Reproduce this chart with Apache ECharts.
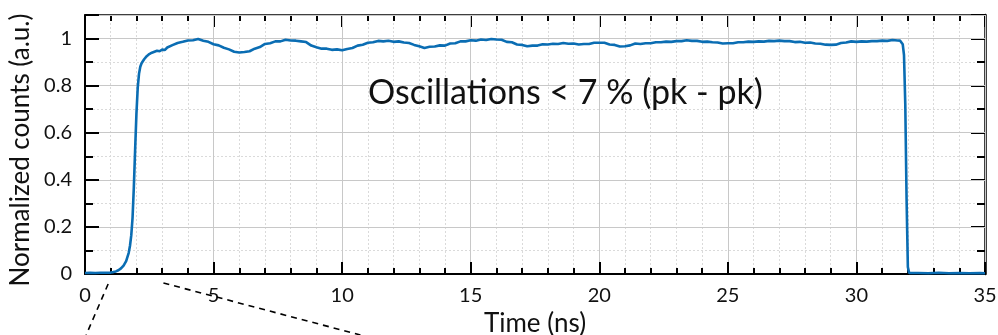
<!DOCTYPE html>
<html>
<head>
<meta charset="utf-8">
<script src="https://cdn.jsdelivr.net/npm/echarts@6/dist/echarts.min.js"></script>
<style>
  html, body { margin: 0; padding: 0; background: #fff; }
  #chart { width: 998px; height: 335px; }
</style>
</head>
<body>
<div id="chart"></div>
<script>
// Time axis samples (ns)
const timeNs = [
  0, 0.2, 0.4, 0.6, 0.8, 1.0, 1.1, 1.2, 1.3, 1.4, 1.5, 1.6, 1.7, 1.75, 1.8, 1.85, 1.9, 1.95,
  2.0, 2.05, 2.1, 2.15, 2.2, 2.3, 2.4, 2.5, 2.6, 2.7, 2.8, 2.9, 3.0, 3.1,
  3.2, 3.4, 3.6, 3.8, 4.0, 4.2, 4.4, 4.6, 4.8, 5.0, 5.2, 5.4, 5.6, 5.8, 6.0, 6.2, 6.4, 6.6, 6.8,
  7.0, 7.2, 7.4, 7.6, 7.8, 8.0, 8.2, 8.4, 8.6, 8.8, 9.0, 9.2, 9.4, 9.6, 9.8,
  10.0, 10.2, 10.4, 10.6, 10.8, 11.0, 11.2, 11.4, 11.6, 11.8, 12.0, 12.2, 12.4, 12.6, 12.8,
  13.0, 13.2, 13.4, 13.6, 13.8, 14.0, 14.2, 14.4, 14.6, 14.8, 15.0, 15.2, 15.4, 15.6, 15.8,
  16.0, 16.2, 16.4, 16.6, 16.8, 17.0, 17.2, 17.4, 17.6, 17.8, 18.0, 18.2, 18.4, 18.6, 18.8,
  19.0, 19.2, 19.4, 19.6, 19.8, 20.0, 20.2, 20.4, 20.6, 20.8, 21.0, 21.2, 21.4, 21.6, 21.8,
  22.0, 22.2, 22.4, 22.6, 22.8, 23.0, 23.2, 23.4, 23.6, 23.8, 24.0, 24.2, 24.4, 24.6, 24.8,
  25.0, 25.2, 25.4, 25.6, 25.8, 26.0, 26.2, 26.4, 26.6, 26.8, 27.0, 27.2, 27.4, 27.6, 27.8,
  28.0, 28.2, 28.4, 28.6, 28.8, 29.0, 29.2, 29.4, 29.6, 29.8, 30.0, 30.2, 30.4, 30.6, 30.8,
  31.0, 31.2, 31.4, 31.6, 31.7, 31.8, 31.85, 31.9, 31.95, 32.0, 32.05,
  32.4, 32.8, 33.2, 33.6, 34.0, 34.4, 34.8, 35.0
];

// Normalized detector counts at each sample
const normCounts = [
  0.004, 0.005, 0.004, 0.005, 0.005, 0.006, 0.008, 0.011, 0.016, 0.024, 0.036, 0.055, 0.09, 0.12, 0.165, 0.24, 0.37, 0.53,
  0.68, 0.79, 0.85, 0.88, 0.895, 0.912, 0.925, 0.934, 0.94, 0.944, 0.948, 0.946, 0.953, 0.951,
  0.962, 0.972, 0.981, 0.986, 0.992, 0.993, 0.998, 0.991, 0.986, 0.976, 0.971, 0.961, 0.954, 0.944, 0.941, 0.943, 0.946, 0.957, 0.964,
  0.977, 0.980, 0.988, 0.988, 0.995, 0.992, 0.991, 0.988, 0.985, 0.970, 0.963, 0.957, 0.957, 0.952, 0.954,
  0.950, 0.956, 0.960, 0.970, 0.974, 0.982, 0.984, 0.990, 0.988, 0.991, 0.986, 0.988, 0.983, 0.981, 0.973,
  0.967, 0.960, 0.965, 0.966, 0.971, 0.970, 0.979, 0.980, 0.988, 0.988, 0.993, 0.991, 0.996, 0.994, 0.998,
  0.996, 0.995, 0.986, 0.984, 0.975, 0.973, 0.967, 0.970, 0.970, 0.976, 0.975, 0.978, 0.977, 0.981, 0.978,
  0.979, 0.975, 0.977, 0.977, 0.982, 0.982, 0.982, 0.975, 0.973, 0.966, 0.967, 0.971, 0.979, 0.977, 0.980,
  0.980, 0.984, 0.984, 0.987, 0.986, 0.989, 0.989, 0.993, 0.990, 0.990, 0.986, 0.987, 0.984, 0.983, 0.979,
  0.980, 0.980, 0.984, 0.984, 0.987, 0.986, 0.988, 0.987, 0.990, 0.989, 0.991, 0.989, 0.989, 0.985, 0.986,
  0.982, 0.983, 0.979, 0.978, 0.974, 0.973, 0.974, 0.981, 0.983, 0.988, 0.986, 0.988, 0.987, 0.989, 0.989,
  0.991, 0.990, 0.994, 0.992, 0.991, 0.976, 0.930, 0.720, 0.320, 0.030, 0.004,
  0.004, 0.003, 0.005, 0.003, 0.004, 0.003, 0.004, 0.003
];

// Axis ranges, major steps and minor tick steps
const xRange = [0, 35];
const xStep = 5;
const xMinorStep = 1;
const yRange = [0, 1.1];
const yStep = 0.2;
const yMinorStep = 0.1;

const annotation = 'Oscillations < 7 % (pk - pk)';
const FONT = 'Lato, "Open Sans", sans-serif';

const seriesData = timeNs.map((t, i) => [t, normCounts[i]]);

const chart = echarts.init(document.getElementById('chart'));

const tickStyle = { color: '#000', width: 2 };
const majorGrid = { show: true, lineStyle: { color: '#c8c8c8', width: 1, type: 'solid' } };
const minorGrid = { show: true, lineStyle: { color: '#dadada', width: 1, type: [2, 2] } };

// Four stacked grids share one plot rectangle: main axes + data, minor ticks, and the
// mirrored top/right frame with its own major and minor ticks.
const box = { left: 85, right: 13, top: 15, bottom: 61, containLabel: false, outerBoundsMode: 'none' };
const grids = [0, 1, 2, 3].map(() => Object.assign({}, box));

// A bare axis that only draws inward ticks, optional frame line and optional grid lines
function tickAxis(gridIndex, range, step, position, tickLen, split, lineWidth) {
  return {
    gridIndex: gridIndex,
    type: 'value', min: range[0], max: range[1], interval: step, position: position,
    axisLine: { show: lineWidth > 0, onZero: false, lineStyle: { color: '#000', width: lineWidth || 1 } },
    axisTick: { show: true, inside: true, length: tickLen, lineStyle: tickStyle },
    splitLine: split || { show: false },
    axisLabel: { show: false }
  };
}

chart.setOption({
  animation: false,
  backgroundColor: '#fff',
  grid: grids,
  xAxis: [
    {
      gridIndex: 0,
      type: 'value', min: xRange[0], max: xRange[1], interval: xStep, position: 'bottom',
      axisLine: { show: true, onZero: false, lineStyle: { color: '#000', width: 2 } },
      axisTick: { show: true, inside: true, length: 12, lineStyle: tickStyle },
      splitLine: majorGrid,
      axisLabel: { color: '#111', fontFamily: FONT, fontSize: 20, margin: 12 },
      name: 'Time (ns)', nameLocation: 'middle', nameGap: 35,
      nameTextStyle: { color: '#111', fontFamily: FONT, fontSize: 26 },
      z: 4
    },
    tickAxis(1, xRange, xMinorStep, 'bottom', 6, minorGrid, 0),
    tickAxis(2, xRange, xStep, 'top', 12, null, 1.5),
    tickAxis(3, xRange, xMinorStep, 'top', 6, null, 0)
  ],
  yAxis: [
    {
      gridIndex: 0,
      type: 'value', min: yRange[0], max: yRange[1], interval: yStep, position: 'left',
      axisLine: { show: true, onZero: false, lineStyle: { color: '#000', width: 2 } },
      axisTick: { show: true, inside: true, length: 14, lineStyle: tickStyle },
      splitLine: majorGrid,
      axisLabel: {
        color: '#111', fontFamily: FONT, fontSize: 20, margin: 13,
        formatter: v => (Math.abs(v / yStep - Math.round(v / yStep)) < 1e-6 ? String(+v.toFixed(1)) : '')
      },
      name: 'Normalized counts (a.u.)', nameLocation: 'middle', nameGap: 49,
      nameTextStyle: { color: '#111', fontFamily: FONT, fontSize: 26, padding: [0, 11, 0, 0] },
      z: 4
    },
    tickAxis(1, yRange, yMinorStep, 'left', 8, minorGrid, 0),
    tickAxis(2, yRange, yStep, 'right', 14, null, 2.5),
    tickAxis(3, yRange, yMinorStep, 'right', 8, null, 0)
  ],
  series: [
    {
      type: 'line',
      xAxisIndex: 0, yAxisIndex: 0,
      data: seriesData,
      showSymbol: false,
      smooth: false,
      lineStyle: { color: '#0a6db3', width: 2.6 },
      z: 5
    }
  ]
});

// Annotation text and dashed guide lines leading down toward an inset below
const base = chart.convertToPixel({ xAxisIndex: 0, yAxisIndex: 0 }, [0, 0]);
const pA = chart.convertToPixel({ xAxisIndex: 0, yAxisIndex: 0 }, [0.9, 0]);
const pB = chart.convertToPixel({ xAxisIndex: 0, yAxisIndex: 0 }, [3.05, 0]);
const dash = { stroke: '#000', lineWidth: 1.6, lineDash: [6, 5] };
chart.setOption({
  graphic: [
    {
      type: 'text', left: 368, top: 76, z: 10,
      style: { text: annotation, fill: '#111', font: '34px ' + FONT }
    },
    { type: 'line', z: 10, shape: { x1: pA[0], y1: base[1] + 10, x2: pA[0] - 22, y2: 335 }, style: dash },
    { type: 'line', z: 10, shape: { x1: pB[0], y1: base[1] + 9, x2: pB[0] + 197, y2: 335 }, style: dash }
  ]
});
</script>
</body>
</html>
